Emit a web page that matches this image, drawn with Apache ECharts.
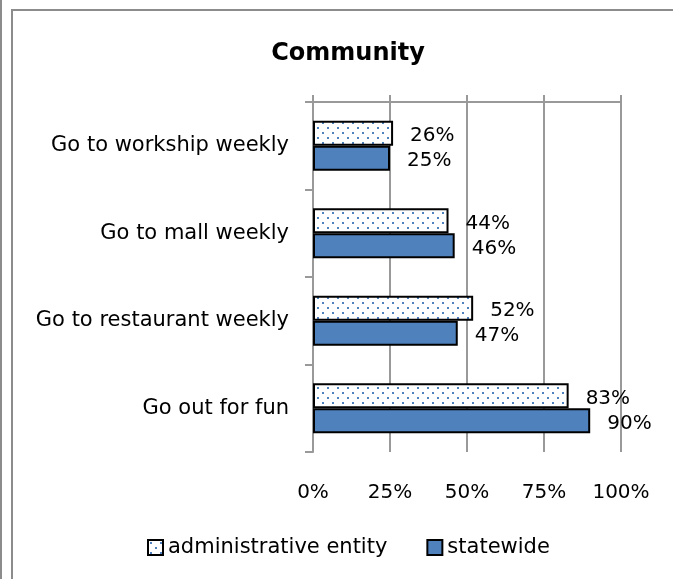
<!DOCTYPE html>
<html>
<head>
<meta charset="utf-8">
<title>Community</title>
<script src="https://cdn.jsdelivr.net/npm/echarts@6/dist/echarts.min.js"></script>
<style>
  * { box-sizing: border-box; }
  html, body { margin: 0; padding: 0; background: #fff; }
  .page { position: relative; width: 673px; height: 579px; overflow: hidden; }
  /* 外框 */
  .edge { position: absolute; left: 0; top: 0; width: 2px; height: 579px; background: #8c8c8c; }
  .frame { position: absolute; left: 11px; top: 9px; width: 700px; height: 620px; border: 2px solid #8c8c8c; }
  #chart { position: absolute; left: 0; top: 0; width: 673px; height: 579px; }
</style>
</head>
<body>
<div class="page">
  <div class="edge"></div>
  <div class="frame"></div>
  <div id="chart"></div>
</div>
<script>
  // 数据
  var categories = ['Go to workship weekly', 'Go to mall weekly', 'Go to restaurant weekly', 'Go out for fun'];
  var adminValues = [26, 44, 52, 83];
  var statewideValues = [25, 46, 47, 90];
  var tickValues = [0, 25, 50, 75, 100];
  var seriesNames = ['administrative entity', 'statewide'];

  var blue = '#4f81bd';
  var grey = '#999999';
  var font = 'DejaVu Sans';

  // 点状填充
  function dotPattern() {
    var c = document.createElement('canvas');
    c.width = 10;
    c.height = 10;
    var ctx = c.getContext('2d');
    ctx.fillStyle = '#fff';
    ctx.fillRect(0, 0, 10, 10);
    ctx.fillStyle = blue;
    ctx.fillRect(2, 2, 2, 2);
    ctx.fillRect(7, 7, 2, 2);
    return c;
  }

  var labelStyle = {
    show: true,
    position: 'right',
    distance: 17,
    offset: [0, 3],
    color: '#000',
    fontFamily: font,
    fontSize: 20,
    formatter: '{c}%'
  };

  var option = {
    animation: false,
    title: {
      text: 'Community',
      left: 348,
      textAlign: 'center',
      top: 42,
      padding: 0,
      textStyle: { fontFamily: font, fontWeight: 'bold', fontSize: 24, color: '#000' }
    },
    legend: {
      data: seriesNames,
      left: 147,
      top: 537,
      padding: 0,
      itemWidth: 15,
      itemHeight: 15,
      itemGap: 39,
      icon: 'rect',
      textStyle: { fontFamily: font, fontSize: 21, color: '#000' }
    },
    grid: { left: 313, top: 102, width: 308, height: 350 },
    xAxis: [
      {
        type: 'value',
        min: tickValues[0],
        max: tickValues[tickValues.length - 1],
        interval: 25,
        position: 'bottom',
        axisLine: { show: false },
        axisTick: { show: false },
        axisLabel: {
          margin: 31,
          color: '#000',
          fontFamily: font,
          fontSize: 20,
          formatter: '{value}%'
        },
        splitLine: { show: true, lineStyle: { color: grey, width: 2 } }
      },
      {
        // 顶部坐标轴线
        type: 'value',
        min: tickValues[0],
        max: tickValues[tickValues.length - 1],
        interval: 25,
        position: 'top',
        axisLine: { show: true, onZero: false, lineStyle: { color: grey, width: 2 } },
        axisTick: { show: true, length: 7, lineStyle: { color: grey, width: 2 } },
        axisLabel: { show: false },
        splitLine: { show: false }
      }
    ],
    yAxis: {
      type: 'category',
      inverse: true,
      data: categories,
      axisLine: { show: true, onZero: false, lineStyle: { color: grey, width: 2 } },
      axisTick: { show: true, length: 8, lineStyle: { color: grey, width: 2 } },
      axisLabel: { margin: 24, color: '#000', fontFamily: font, fontSize: 21 }
    },
    series: [
      {
        name: seriesNames[0],
        type: 'bar',
        data: adminValues,
        barWidth: 25,
        barGap: '0%',
        itemStyle: {
          color: { image: dotPattern(), repeat: 'repeat' },
          borderColor: '#000',
          borderWidth: 2
        },
        label: labelStyle
      },
      {
        name: seriesNames[1],
        type: 'bar',
        data: statewideValues,
        barWidth: 25,
        barGap: '0%',
        itemStyle: { color: blue, borderColor: '#000', borderWidth: 2 },
        label: labelStyle
      }
    ]
  };

  var chart = echarts.init(document.getElementById('chart'));
  chart.setOption(option);
</script>
</body>
</html>
